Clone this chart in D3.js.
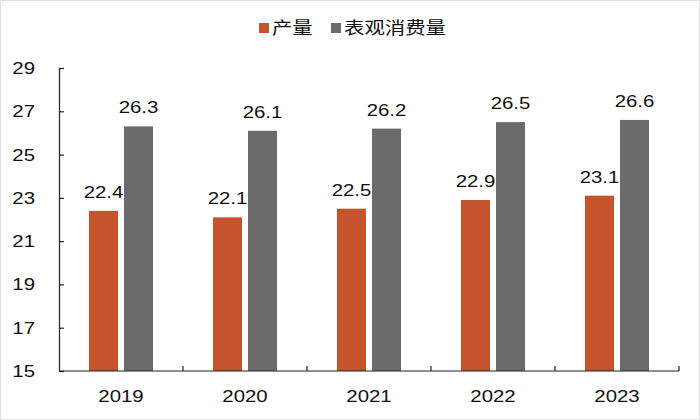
<!DOCTYPE html>
<html>
<head>
<meta charset="utf-8">
<script src="https://cdn.jsdelivr.net/npm/d3@7"></script>
<style>
  body { margin: 0; background: #fff; }
  text { font-family: "Liberation Sans", Arial, "Noto Sans CJK SC", sans-serif; fill: #111; }
</style>
</head>
<body>
<div id="chart"></div>
<script>
// data
const years = ["2019", "2020", "2021", "2022", "2023"];
const series = ["产量", "表观消费量"];
const output = [22.4, 22.1, 22.5, 22.9, 23.1];
const consumption = [26.3, 26.1, 26.2, 26.5, 26.6];
const yTicks = [15, 17, 19, 21, 23, 25, 27, 29];
const colors = ["#C5532B", "#6B6B6B"];

const width = 700, height = 420;
const margin = { top: 68, right: 21, bottom: 49, left: 59 };
const stretch = 1.2; // the reference text is a bit wide

// widen a text element horizontally around its own x
function widen(sel) {
  sel.each(function () {
    const t = d3.select(this);
    const tx = +t.attr("x") || 0;
    t.attr("transform", `translate(${tx},0) scale(${stretch},1) translate(${-tx},0)`);
  });
}

const svg = d3.select("#chart").append("svg")
  .attr("width", width)
  .attr("height", height);

// faint frame round the picture
svg.append("rect")
  .attr("x", 0.5).attr("y", 0.5)
  .attr("width", width - 1).attr("height", height - 1)
  .attr("fill", "none")
  .attr("stroke", "#e2e2e2");

const x = d3.scaleBand()
  .domain(years)
  .range([margin.left, width - margin.right])
  .padding(0);

const xSub = d3.scaleBand()
  .domain(series)
  .range([0, x.bandwidth()])
  .paddingInner(0.171)
  .paddingOuter(0.857);

const y = d3.scaleLinear()
  .domain([15, 29])
  .range([height - margin.bottom, margin.top]);

const rows = years.map((yr, i) => ({
  year: yr,
  values: [
    { key: series[0], value: output[i] },
    { key: series[1], value: consumption[i] }
  ]
}));

const groups = svg.selectAll(".group")
  .data(rows)
  .enter().append("g")
  .attr("class", "group")
  .attr("transform", d => `translate(${x(d.year)},0)`);

groups.selectAll("rect")
  .data(d => d.values)
  .enter().append("rect")
  .attr("x", d => xSub(d.key))
  .attr("y", d => y(d.value))
  .attr("width", xSub.bandwidth())
  .attr("height", d => y(15) - y(d.value))
  .attr("fill", (d, i) => colors[i]);

groups.selectAll(".val")
  .data(d => d.values)
  .enter().append("text")
  .attr("class", "val")
  .attr("x", d => xSub(d.key) + xSub.bandwidth() / 2)
  .attr("y", d => y(d.value) - 13)
  .attr("text-anchor", "middle")
  .style("font-size", "17px")
  .text(d => d.value.toFixed(1))
  .call(widen);

// axes
const xAxis = svg.append("g")
  .attr("transform", `translate(0,${height - margin.bottom})`)
  .call(d3.axisBottom(x).tickSize(0).tickPadding(19));
xAxis.select(".domain").remove();
xAxis.selectAll("text").style("font-size", "17px").call(widen);

svg.append("path")
  .attr("d", `M${margin.left},${y(15)}H${width - margin.right}`)
  .attr("stroke", "#222").attr("stroke-width", 1.2);

svg.selectAll(".xsep")
  .data(years)
  .enter().append("line")
  .attr("class", "xsep")
  .attr("x1", d => x(d) + x.bandwidth())
  .attr("x2", d => x(d) + x.bandwidth())
  .attr("y1", y(15))
  .attr("y2", y(15) - 5)
  .attr("stroke", "#222").attr("stroke-width", 1.2);

const yAxis = svg.append("g")
  .attr("transform", `translate(${margin.left},0)`)
  .call(d3.axisLeft(y).tickValues(yTicks).tickSize(-5).tickPadding(24).tickSizeOuter(0));
yAxis.select(".domain").attr("stroke", "#222").attr("stroke-width", 1.2);
yAxis.selectAll(".tick line").attr("stroke", "#222").attr("stroke-width", 1.2);
yAxis.selectAll("text").style("font-size", "17px").call(widen);

// legend
const legend = svg.append("g").attr("transform", "translate(0,28)");
const legendX = [259, 331];
series.forEach((s, i) => {
  legend.append("rect")
    .attr("x", legendX[i]).attr("y", -5)
    .attr("width", 10).attr("height", 10)
    .attr("fill", colors[i]);
  legend.append("text")
    .attr("x", legendX[i] + 13).attr("y", 0)
    .attr("dy", "0.35em")
    .style("font-size", "17px")
    .style("font-family", "'Noto Sans CJK SC', sans-serif")
    .text(s)
    .call(widen);
});
</script>
</body>
</html>
